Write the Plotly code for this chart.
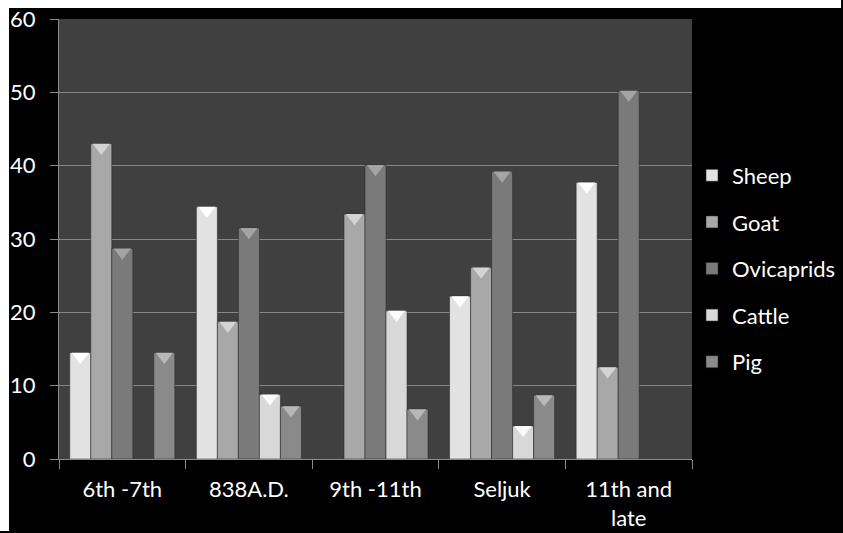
import plotly.graph_objects as go

# Categories (periods) and percentage values per taxon
periods = ["6th -7th", "838A.D.", "9th -11th", "Seljuk", "11th and<br>late"]
sheep = [14.5, 34.4, None, 22.2, 37.7]
goat = [43.0, 18.7, 33.4, 26.1, 12.5]
ovicaprids = [28.7, 31.5, 40.1, 39.2, 50.2]
cattle = [None, 8.8, 20.2, 4.5, None]
pig = [14.5, 7.2, 6.8, 8.7, None]
y_ticks = [0, 10, 20, 30, 40, 50, 60]

series = [
    ("Sheep", sheep, "#e2e2e2", "#ffffff"),
    ("Goat", goat, "#a8a8a8", "#d4d4d4"),
    ("Ovicaprids", ovicaprids, "#7a7a7a", "#a4a4a4"),
    ("Cattle", cattle, "#d8d8d8", "#fafafa"),
    ("Pig", pig, "#8a8a8a", "#b8b8b8"),
]

W, H = 843, 533
ML, MR, MT, MB = 59, 151, 19, 74
FONT = "Lato, Open Sans, Liberation Sans, sans-serif"
GAP = 0.17
Y_MAX = 60
CAP_SIZE = 15

# plot width/height in px, used to place paper-referenced decorations
pw = W - ML - MR
ph = H - MT - MB
# triangle-down marker: its top edge sits CAP_SIZE/4 px above the centre,
# so drop the centre by that much to seat the cap on the bar top
cap_drop = (CAP_SIZE / 4) * Y_MAX / ph

fig = go.Figure()
for i, (name, vals, col, cap) in enumerate(series):
    fig.add_trace(go.Bar(
        name=name, x=periods, y=vals,
        offsetgroup=str(i), legendgroup=name,
        marker=dict(color=col, line=dict(color="rgba(40,40,40,0.55)", width=1)),
        hoverinfo="x+y+name",
    ))
# light bevel cap on top of each bar
for i, (name, vals, col, cap) in enumerate(series):
    cap_y = [None if v is None else v - cap_drop for v in vals]
    fig.add_trace(go.Scatter(
        x=periods, y=cap_y, mode="markers", offsetgroup=str(i),
        marker=dict(symbol="triangle-down", size=CAP_SIZE, color=cap, line=dict(width=0)),
        showlegend=False, hoverinfo="skip", cliponaxis=False,
    ))

# white frame strips along the top and left edges, inset from the far edges
left_edge = -ML / pw
top_edge = 1 + MT / ph
right_in = (W - ML - 2) / pw
bottom_in = -(MB - 2) / ph

fig.update_layout(
    width=W, height=H,
    margin=dict(l=ML, r=MR, t=MT, b=MB, pad=0, autoexpand=False),
    paper_bgcolor="#000000",
    plot_bgcolor="#404040",
    barmode="group", bargap=GAP, bargroupgap=0,
    scattermode="group", scattergap=GAP,
    font=dict(family=FONT, size=22, color="#ffffff"),
    showlegend=True,
    legend=dict(
        x=1.0, xanchor="left", y=0.692, yanchor="top",
        bgcolor="rgba(0,0,0,0)", font=dict(family=FONT, size=22, color="#ffffff"),
        tracegroupgap=15, itemclick=False, itemdoubleclick=False,
    ),
    xaxis=dict(
        showgrid=False, showline=True, linecolor="#8a8a8a", linewidth=1,
        ticks="outside", tickson="boundaries", ticklen=9, tickcolor="#8a8a8a",
        tickfont=dict(family=FONT, size=22, color="#ffffff"),
        ticklabelstandoff=11, fixedrange=True,
    ),
    yaxis=dict(
        range=[0, Y_MAX], tickvals=y_ticks, showgrid=True, gridcolor="#878787", gridwidth=1,
        showline=True, linecolor="#8a8a8a", linewidth=1, zeroline=False,
        ticks="outside", ticklen=8, tickcolor="#8a8a8a",
        tickfont=dict(family=FONT, size=22, color="#ffffff"),
        ticklabelstandoff=10, fixedrange=True,
    ),
    shapes=[
        dict(type="rect", xref="paper", yref="paper", layer="below",
             x0=left_edge, x1=right_in,
             y0=1 + (MT - 8) / ph, y1=top_edge,
             fillcolor="#ffffff", line=dict(width=0)),
        dict(type="rect", xref="paper", yref="paper", layer="below",
             x0=left_edge, x1=-(ML - 9) / pw,
             y0=bottom_in, y1=top_edge,
             fillcolor="#ffffff", line=dict(width=0)),
    ],
)

fig.write_html("out.html")
